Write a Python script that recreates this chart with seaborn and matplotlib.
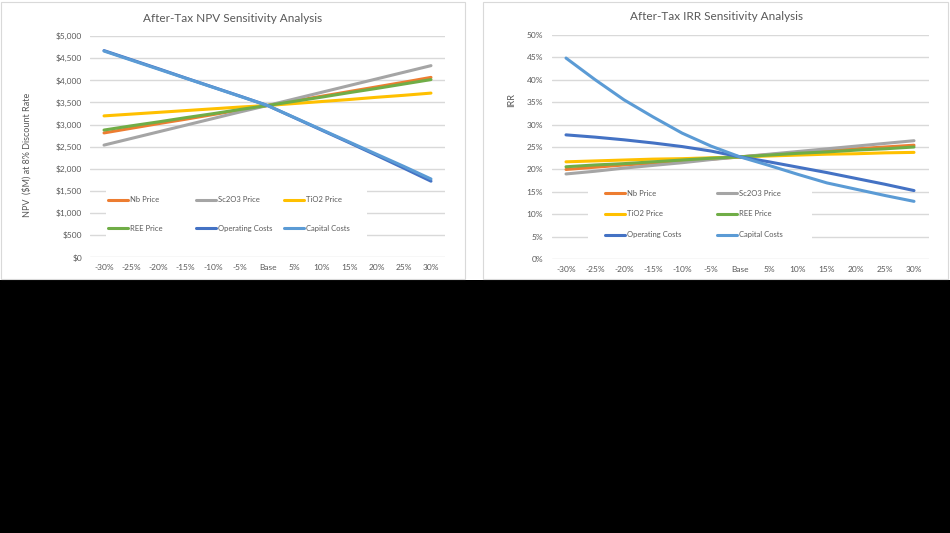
import pandas as pd
import matplotlib.pyplot as plt
import seaborn as sns
from matplotlib.patches import Rectangle
from matplotlib.lines import Line2D
from matplotlib.ticker import FuncFormatter

# Categories (sensitivity steps)
steps = ['-30%', '-25%', '-20%', '-15%', '-10%', '-5%', 'Base',
         '5%', '10%', '15%', '20%', '25%', '30%']
series_names = ['Nb Price', 'Sc2O3 Price', 'TiO2 Price', 'REE Price',
                'Operating Costs', 'Capital Costs']
colors = ['#ED7D31', '#A5A5A5', '#FFC000', '#70AD47', '#4472C4', '#5B9BD5']

# After-tax NPV ($M at 8%)
npv_nb = [2810, 2915, 3020, 3120, 3225, 3330, 3430, 3535, 3640, 3745, 3850, 3955, 4065]
npv_sc = [2535, 2685, 2835, 2985, 3135, 3285, 3430, 3580, 3730, 3880, 4030, 4180, 4330]
npv_ti = [3195, 3235, 3275, 3315, 3355, 3395, 3430, 3475, 3520, 3565, 3615, 3660, 3710]
npv_ree = [2875, 2970, 3060, 3155, 3245, 3340, 3430, 3525, 3620, 3720, 3815, 3915, 4015]
npv_opex = [4670, 4465, 4260, 4050, 3845, 3640, 3430, 3150, 2870, 2590, 2305, 2015, 1720]
npv_capex = [4660, 4455, 4250, 4045, 3840, 3635, 3430, 3155, 2880, 2605, 2330, 2055, 1770]

# After-tax IRR (%)
irr_nb = [20.0, 20.5, 21.0, 21.4, 21.9, 22.3, 22.8, 23.3, 23.7, 24.2, 24.6, 25.0, 25.4]
irr_sc = [19.0, 19.6, 20.3, 20.9, 21.5, 22.2, 22.8, 23.4, 24.0, 24.6, 25.2, 25.8, 26.4]
irr_ti = [21.7, 21.9, 22.1, 22.3, 22.4, 22.6, 22.8, 23.0, 23.2, 23.4, 23.5, 23.7, 23.8]
irr_ree = [20.6, 21.0, 21.3, 21.7, 22.1, 22.5, 22.8, 23.2, 23.6, 23.9, 24.3, 24.6, 25.0]
irr_opex = [27.7, 27.2, 26.6, 25.9, 25.1, 24.1, 22.8, 21.7, 20.5, 19.3, 18.0, 16.7, 15.3]
irr_capex = [44.8, 40.0, 35.5, 31.7, 28.1, 25.2, 22.8, 20.9, 18.9, 17.0, 15.6, 14.2, 12.9]

npv_series = [npv_nb, npv_sc, npv_ti, npv_ree, npv_opex, npv_capex]
irr_series = [irr_nb, irr_sc, irr_ti, irr_ree, irr_opex, irr_capex]


def to_long(series_list):
    rows = []
    for name, vals in zip(series_names, series_list):
        for i, v in enumerate(vals):
            rows.append({'pos': i, 'value': v, 'series': name})
    return pd.DataFrame(rows)


sns.set_style('white')
plt.rcParams['font.family'] = ['Lato', 'DejaVu Sans']
txt = '#595959'
grid_c = '#D9D9D9'

W, H = 950, 533
fig = plt.figure(figsize=(W / 100, H / 100), dpi=100, facecolor='black')


def fx(px):
    return px / W


def fy(py):
    return 1 - py / H


# white slide area and chart borders (behind the axes)
fig.patches.append(Rectangle((0, fy(280)), 1, 1 - fy(280), transform=fig.transFigure,
                             facecolor='white', edgecolor='none', zorder=-2))
fig.patches.append(Rectangle((fx(1), fy(279)), fx(464), fy(2) - fy(279),
                             transform=fig.transFigure, facecolor='white',
                             edgecolor=grid_c, lw=0.8, zorder=-1))
fig.patches.append(Rectangle((fx(483), fy(279)), fx(465), fy(2) - fy(279),
                             transform=fig.transFigure, facecolor='white',
                             edgecolor=grid_c, lw=0.8, zorder=-1))

palette = dict(zip(series_names, colors))


def draw_panel(rect, series_list, ylim, yticks, fmt, title, title_xy, ylabel, ylab_xy,
               legend_cols, legend_rows, cover):
    ax = fig.add_axes(rect)
    ax.set_facecolor('none')
    df = to_long(series_list)
    sns.lineplot(data=df, x='pos', y='value', hue='series', hue_order=series_names,
                 palette=palette, linewidth=2.2, legend=False, ax=ax, zorder=3)
    ax.set_xlim(-0.5, len(steps) - 0.5)
    ax.set_ylim(*ylim)
    ax.set_xticks(range(len(steps)))
    ax.set_xticklabels(steps)
    ax.set_yticks(yticks)
    ax.yaxis.set_major_formatter(FuncFormatter(fmt))
    ax.set_axisbelow(True)
    ax.grid(axis='y', color=grid_c, lw=1)
    ax.grid(axis='x', visible=False)
    for s in ax.spines.values():
        s.set_visible(False)
    ax.tick_params(axis='both', length=0, labelsize=6, labelcolor=txt)
    ax.tick_params(axis='y', pad=6)
    ax.tick_params(axis='x', pad=5)
    ax.set_xlabel('')
    ax.set_ylabel(ylabel, fontsize=6.5, color=txt)
    ax.yaxis.set_label_coords(*ylab_xy)
    fig.text(fx(title_xy[0]), fy(title_xy[1]), title, ha='center', va='center',
             fontsize=8.5, color=txt)
    # legend box covering gridlines
    x0, y0, x1, y1 = cover
    ax.add_patch(Rectangle((fx(x0), fy(y1)), fx(x1 - x0), fy(y0) - fy(y1),
                           transform=fig.transFigure, facecolor='white',
                           edgecolor='none', zorder=1))
    k = 0
    for yrow in legend_rows:
        for xcol in legend_cols:
            h = Line2D([], [], color=colors[k], lw=2.2)
            fig.legend(handles=[h], labels=[series_names[k]], loc='center left',
                       bbox_to_anchor=(fx(xcol), fy(yrow)), frameon=False,
                       fontsize=5.5, labelcolor=txt, handlelength=2.6,
                       handletextpad=0.25, borderpad=0, borderaxespad=0)
            k += 1
    return ax


draw_panel([fx(90.4), fy(257.3), fx(354.2), fy(36) - fy(257.3)],
           npv_series, (0, 5000), range(0, 5001, 500),
           lambda v, p: '${:,.0f}'.format(v),
           'After-Tax NPV Sensitivity Analysis', (233, 18),
           'NPV  ($M) at 8% Discount Rate', (-0.165, 0.462),
           [108, 196, 284], [200, 228], (106, 186, 367, 240))

draw_panel([fx(551.5), fy(259.3), fx(377), fy(34.7) - fy(259.3)],
           irr_series, (0, 50), range(0, 51, 5),
           lambda v, p: '{:.0f}%'.format(v),
           'After-Tax IRR Sensitivity Analysis', (716, 17),
           'IRR', (-0.094, 0.709),
           [605, 717], [193, 214, 235], (588, 186, 812, 243))

fig.savefig('out.png', dpi=100, facecolor=fig.get_facecolor())
